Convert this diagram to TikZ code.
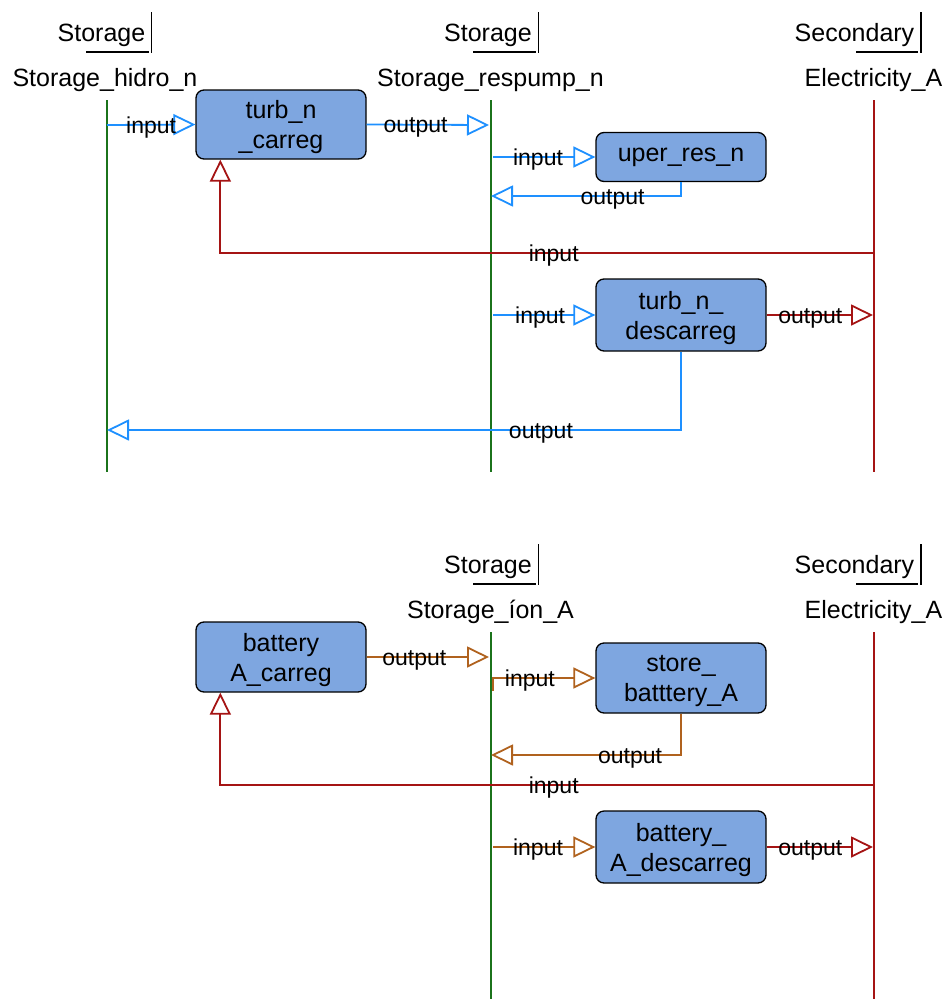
\documentclass[tikz,border=0pt]{standalone}
\usepackage{fontspec}
\setmainfont{Liberation Sans}
\usetikzlibrary{arrows.meta}
\definecolor{cblue}{HTML}{1E90FF}
\definecolor{cgreen}{HTML}{1B731B}
\definecolor{cred}{HTML}{A51414}
\definecolor{cbrown}{HTML}{B0621E}
\definecolor{boxfill}{HTML}{7EA6E0}
\begin{document}
\begin{tikzpicture}[x=1pt,y=-1pt,
  box/.style={draw=black,line width=1.3pt,fill=boxfill,rounded corners=8pt,align=center,
    font=\fontsize{25}{30}\selectfont,inner sep=0pt,minimum width=170pt},
  twoline/.style={text depth=0pt},
  lbl/.style={font=\fontsize{23}{23}\selectfont,inner sep=0pt,text=black,yshift=-3pt},
  head/.style={font=\fontsize{25}{30}\selectfont,anchor=base,inner sep=0pt},
  hbar/.style={draw=black,line width=1.3pt},
  life/.style={line width=1.8pt},
  conn/.style={line width=1.8pt,-{Triangle[open,length=22pt,width=21pt,line width=1.8pt]}}]
\useasboundingbox (0,0) rectangle (949,999);

% ---------- top section headers ----------
\node[head] (h1) at (101.5,41) {Storage};
\draw[hbar] (151.5,12) -- (151.5,53);
\draw[hbar] (86,52) -- (149,52);
\node[head] (h2) at (488,41) {Storage};
\draw[hbar] (538.5,12) -- (538.5,53);
\draw[hbar] (473,52) -- (536,52);
\node[head] (h3) at (854.5,41) {Secondary};
\draw[hbar] (921,12) -- (921,53);
\draw[hbar] (856,52) -- (918,52);

\node[head] (n1) at (105,86) {Storage\_hidro\_n};
\node[head] (n2) at (490.5,86) {Storage\_respump\_n};
\node[head] (n3) at (873.5,86) {Electricity\_A};

% lifelines
\coordinate (l1t) at (107,100); \coordinate (l1b) at (107,472);
\coordinate (l2t) at (491,100); \coordinate (l2b) at (491,472);
\coordinate (l3t) at (874,100); \coordinate (l3b) at (874,472);
\draw[life,cgreen] (l1t) -- (l1b);
\draw[life,cgreen] (l2t) -- (l2b);
\draw[life,cred] (l3t) -- (l3b);

% boxes
\node[box,twoline,minimum height=69pt] (tc) at (281,124.5) {turb\_n\\\_carreg};
\node[box,minimum height=49pt] (ur) at (681,157) {uper\_res\_n};
\node[box,twoline,minimum height=72pt] (td) at (681,315) {turb\_n\_\\descarreg};

% connectors top
\coordinate (a1) at (107,125);
\draw[conn,cblue] (a1) -- (tc.west) node[lbl,midway] {input};
\coordinate (a2) at (489,125);
\draw[conn,cblue] (tc.east) -- (a2) node[lbl,pos=0.4] {output};
\coordinate (a3) at (493,157);
\draw[conn,cblue] (a3) -- (ur.west) node[lbl,pos=0.44] {input};
\coordinate (a4) at (491,196);
\draw[conn,cblue] (ur.south) |- (a4) node[lbl,pos=0.68] {output};
\coordinate (a5) at (874,253);
\coordinate (tcin) at ([xshift=25pt]tc.south west);
\draw[conn,cred] (a5) -| (tcin) node[lbl,pos=0.245] {input};
\coordinate (a6) at (493,315);
\draw[conn,cblue] (a6) -- (td.west) node[lbl,pos=0.46] {input};
\coordinate (a7) at (873,315);
\draw[conn,cred] (td.east) -- (a7) node[lbl,pos=0.41] {output};
\coordinate (a8) at (107,430);
\draw[conn,cblue] (td.south) |- (a8) node[lbl,pos=0.622] {output};

% ---------- bottom section ----------
\node[head] (h4) at (488,573) {Storage};
\draw[hbar] (538.5,544) -- (538.5,585);
\draw[hbar] (473,584) -- (536,584);
\node[head] (h5) at (854.5,573) {Secondary};
\draw[hbar] (921,544) -- (921,585);
\draw[hbar] (856,584) -- (918,584);

\node[head] (n4) at (490.5,618) {Storage\_íon\_A};
\node[head] (n5) at (873.5,618) {Electricity\_A};

\coordinate (l4t) at (491,632); \coordinate (l4b) at (491,999);
\coordinate (l5t) at (874,632); \coordinate (l5b) at (874,999);
\draw[life,cgreen] (l4t) -- (l4b);
\draw[life,cred] (l5t) -- (l5b);

\node[box,twoline,minimum height=70pt] (bc) at (281,657) {battery\\A\_carreg};
\node[box,twoline,minimum height=70pt] (sb) at (681,678) {store\_\\batttery\_A};
\node[box,twoline,minimum height=72pt] (bd) at (681,847) {battery\_\\A\_descarreg};

\coordinate (b1) at (489,657);
\draw[conn,cbrown] (bc.east) -- (b1) node[lbl,pos=0.39] {output};
\coordinate (b2) at (493,691);
\draw[conn,cbrown] (b2) |- (sb.west) node[lbl,pos=0.68] {input};
\coordinate (b3) at (491,755);
\draw[conn,cbrown] (sb.south) |- (b3) node[lbl,pos=0.634] {output};
\coordinate (b4) at (874,785);
\coordinate (bcin) at ([xshift=25pt]bc.south west);
\draw[conn,cred] (b4) -| (bcin) node[lbl,pos=0.245] {input};
\coordinate (b5) at (493,847);
\draw[conn,cbrown] (b5) -- (bd.west) node[lbl,pos=0.44] {input};
\coordinate (b6) at (873,847);
\draw[conn,cred] (bd.east) -- (b6) node[lbl,pos=0.41] {output};
\end{tikzpicture}
\end{document}
